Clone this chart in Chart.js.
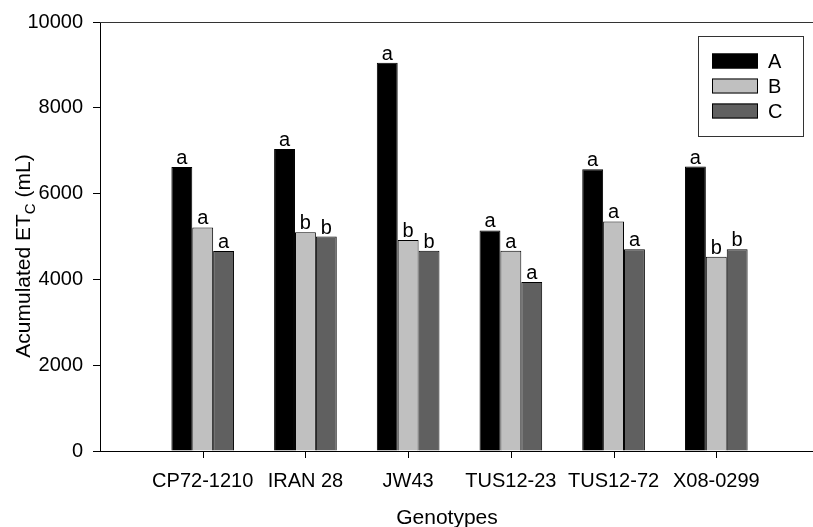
<!DOCTYPE html>
<html>
<head>
<meta charset="utf-8">
<script src="https://cdn.jsdelivr.net/npm/chart.js@4"></script>
<style>
  html, body { margin: 0; padding: 0; background: #fff; overflow: hidden; }
  #wrap { width: 830px; height: 527px; }
</style>
</head>
<body>
<div id="wrap"><canvas id="myBarChart" width="830" height="527"></canvas></div>
<script>
const categories = ['CP72-1210', 'IRAN 28', 'JW43', 'TUS12-23', 'TUS12-72', 'X08-0299'];
const seriesNames = ['A', 'B', 'C'];
const seriesA = [6620, 7040, 9050, 5140, 6570, 6630];
const seriesB = [5210, 5100, 4920, 4670, 5350, 4530];
const seriesC = [4660, 5000, 4670, 3940, 4700, 4700];
const lettersA = ['a', 'a', 'a', 'a', 'a', 'a'];
const lettersB = ['a', 'b', 'b', 'a', 'a', 'b'];
const lettersC = ['a', 'b', 'b', 'a', 'a', 'b'];
const yMin = 0, yMax = 10000, yStep = 2000;

const colors = ['#000000', '#c0c0c0', '#606060'];
const FONT = 'Liberation Sans, Arial, sans-serif';

// empty slot on both ends so the groups sit like in the original plot
function pad(arr, fill){ return [fill, ...arr, fill]; }

const lettersPlugin = {
    id: 'letters',
    afterDatasetsDraw(chart){
        const ctx = chart.ctx;
        const all = [lettersA, lettersB, lettersC];
        ctx.save();
        ctx.font = '20px ' + FONT;
        ctx.fillStyle = '#000';
        ctx.textAlign = 'center';
        ctx.textBaseline = 'alphabetic';
        chart.data.datasets.forEach((ds, d) => {
            const meta = chart.getDatasetMeta(d);
            meta.data.forEach((el, i) => {
                if(i === 0 || i > categories.length) return;
                ctx.fillText(all[d][i - 1], el.x, el.y - 3);
            });
        });
        ctx.restore();
    }
};

const framePlugin = {
    id: 'frame',
    afterDraw(chart){
        const ctx = chart.ctx;
        const a = chart.chartArea;
        ctx.save();
        // top line of the frame
        ctx.strokeStyle = '#333';
        ctx.lineWidth = 1;
        ctx.beginPath();
        ctx.moveTo(a.left, Math.round(a.top) + 0.5);
        ctx.lineTo(chart.width, Math.round(a.top) + 0.5);
        ctx.stroke();

        // tick marks under each genotype (middle bar sits on the category centre)
        ctx.fillStyle = '#000';
        const mid = chart.getDatasetMeta(1).data;
        for(let i = 1; i <= categories.length; i++){
            const px = Math.round(mid[i].x);
            ctx.fillRect(px, Math.round(a.bottom), 1, 7);
        }

        // legend box
        ctx.strokeStyle = '#333';
        ctx.fillStyle = '#fff';
        ctx.fillRect(698, 36, 105, 100);
        ctx.strokeRect(698.5, 36.5, 105, 100);
        ctx.font = '20px ' + FONT;
        ctx.textBaseline = 'middle';
        ctx.textAlign = 'left';
        chart.data.datasets.forEach((ds, d) => {
            const cy = 61 + d * 25;
            ctx.fillStyle = ds.backgroundColor;
            ctx.fillRect(712, cy - 7.5, 46, 15);
            ctx.strokeStyle = '#000';
            ctx.strokeRect(712.5, cy - 7, 45, 14);
            ctx.fillStyle = '#000';
            ctx.fillText(ds.label, 768, cy + 1);
        });

        // axis titles
        ctx.fillStyle = '#000';
        ctx.font = '21px ' + FONT;
        ctx.textAlign = 'center';
        ctx.textBaseline = 'alphabetic';
        ctx.fillText('Genotypes', 447, 524);

        const p1 = 'Acumulated ET', p2 = 'C', p3 = ' (mL)';
        const w1 = ctx.measureText(p1).width;
        const w3 = ctx.measureText(p3).width;
        ctx.font = '15px ' + FONT;
        const w2 = ctx.measureText(p2).width;
        const w = w1 + w2 + w3;
        ctx.translate(30, 256);
        ctx.rotate(-Math.PI / 2);
        ctx.textAlign = 'left';
        ctx.font = '21px ' + FONT;
        ctx.fillText(p1, -w / 2, 0);
        ctx.font = '15px ' + FONT;
        ctx.fillText(p2, -w / 2 + w1, 5);
        ctx.font = '21px ' + FONT;
        ctx.fillText(p3, -w / 2 + w1 + w2, 0);
        ctx.restore();
    }
};

const ctx = document.getElementById('myBarChart').getContext('2d');
const barChart = new Chart(ctx, {
    type: 'bar',
    data: {
        labels: pad(categories, ''),
        datasets: [seriesA, seriesB, seriesC].map((values, d) => ({
            label: seriesNames[d],
            data: pad(values, null),
            backgroundColor: colors[d],
            borderColor: '#000',
            borderWidth: 1,
            barPercentage: 1,
            categoryPercentage: 0.61
        }))
    },
    options: {
        responsive: false,
        animation: false,
        layout: { padding: { top: 20, left: 0, right: 0, bottom: 0 } },
        plugins: {
            legend: { display: false },
            tooltip: { enabled: false }
        },
        scales: {
            x: {
                offset: false,
                grid: {
                    offset: false,
                    drawOnChartArea: false,
                    drawTicks: true,
                    tickLength: 7,
                    color: 'rgba(0,0,0,0)'
                },
                border: { display: true, color: '#000', width: 1 },
                ticks: {
                    color: '#000',
                    font: { family: FONT, size: 20 },
                    padding: 11,
                    maxRotation: 0,
                    autoSkip: false
                },
                afterFit(scale){ scale.height = 76; }
            },
            y: {
                min: yMin,
                max: yMax,
                grid: { drawOnChartArea: false, drawTicks: true, tickLength: 7, color: '#000' },
                border: { display: true, color: '#000', width: 1 },
                ticks: {
                    stepSize: yStep,
                    color: '#000',
                    font: { family: FONT, size: 20 },
                    padding: 10,
                    callback: v => String(v)
                },
                afterFit(scale){ scale.width = 100; }
            }
        }
    },
    plugins: [lettersPlugin, framePlugin]
});
</script>
</body>
</html>
